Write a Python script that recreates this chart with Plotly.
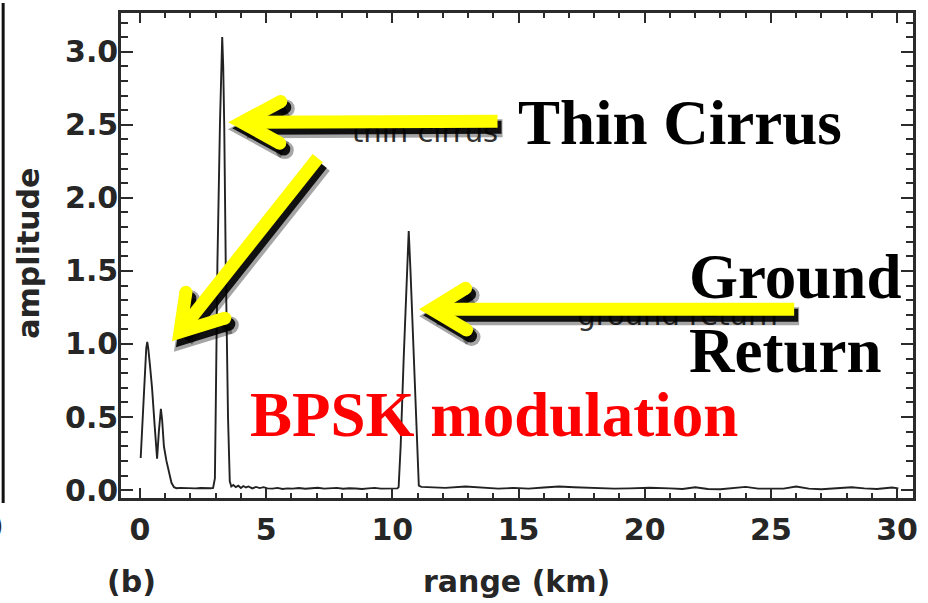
import plotly.graph_objects as go

# Lidar return amplitude vs range (BPSK modulation)
range_km = [
    0.03, 0.12, 0.20, 0.25, 0.29, 0.33, 0.40, 0.48, 0.58, 0.68, 0.75, 0.80, 0.83, 0.88,
    0.95, 1.05, 1.15, 1.25, 1.35, 1.45, 1.6, 1.8, 2.0, 2.2, 2.4, 2.6, 2.8, 2.9,
    2.97, 3.00, 3.07, 3.17, 3.22, 3.26, 3.30, 3.34, 3.40, 3.49, 3.56, 3.62,
    3.7, 3.8, 3.9, 4.0, 4.1, 4.2, 4.3, 4.45, 4.6, 4.75, 4.9, 5.05, 5.25, 5.45,
    5.65, 5.85, 6.05, 6.3, 6.55, 6.8, 7.05, 7.3, 7.55, 7.8, 8.05, 8.3, 8.55, 8.8,
    9.05, 9.3, 9.55, 9.8, 10.05, 10.2,
    10.25, 10.33, 10.45, 10.58, 10.65, 10.72, 10.85, 10.99, 11.05, 11.15,
    11.5, 12.1, 12.9, 13.5, 14.2, 14.8, 15.4, 16.0, 16.6, 17.2, 18.0, 18.8, 19.4,
    20.2, 21.0, 21.5, 22.0, 22.5, 23.0, 23.5, 24.0, 24.5, 25.0, 25.5, 26.0, 26.5,
    27.0, 27.5, 28.2, 28.7, 29.2, 29.8, 30.05,
]
amplitude = [
    0.22, 0.55, 0.88, 0.97, 1.015, 0.97, 0.85, 0.70, 0.45, 0.215, 0.40, 0.52, 0.556, 0.48,
    0.30, 0.20, 0.13, 0.05, 0.02, 0.013, 0.015, 0.013, 0.016, 0.012, 0.014, 0.011, 0.013, 0.015,
    0.08, 0.50, 1.55, 2.50, 2.90, 3.10, 2.90, 2.50, 1.55, 0.50, 0.06, 0.025,
    0.035, 0.020, 0.030, 0.015, 0.028, 0.018, 0.025, 0.012, 0.022, 0.014, 0.020, 0.012, 0.010, 0.015,
    0.008, 0.012, 0.010, 0.014, 0.009, 0.012, 0.016, 0.010, 0.012, 0.015, 0.009, 0.013, 0.011, 0.008,
    0.012, 0.015, 0.010, 0.012, 0.014, 0.012,
    0.02, 0.30, 0.90, 1.50, 1.773, 1.50, 0.90, 0.30, 0.03, 0.022,
    0.020, 0.015, 0.025, 0.020, 0.010, 0.015, 0.010, 0.018, 0.025, 0.020, 0.015, 0.010, 0.012,
    0.016, 0.012, 0.008, 0.020, 0.008, 0.006, 0.012, 0.022, 0.010, 0.008, 0.010, 0.025, 0.010,
    0.006, 0.010, 0.020, 0.012, 0.008, 0.018, 0.012,
]

# original in-plot labels (partly covered by the highlight arrows)
label_text = ["thin cirrus", "ground return"]
label_x = [11.3, 21.3]
label_y = [2.43, 1.18]

x_ticks = [0, 5, 10, 15, 20, 25, 30]
y_ticks = [0.0, 0.5, 1.0, 1.5, 2.0, 2.5, 3.0]

W_FIG, H_FIG = 928, 603
ML, MR, MT, MB = 121, 14, 10, 105
PW, PH = W_FIG - ML - MR, H_FIG - MT - MB


def pp(x, y):
    """pixel position -> paper coordinates"""
    return (x - ML) / PW, 1 - (y - MT) / PH


AX = "#2b2b2b"
TICK_FONT = dict(family="DejaVu Sans", size=30, color="#262626", weight="bold")

fig = go.Figure()
fig.add_trace(go.Scatter(
    x=range_km, y=amplitude, mode="lines",
    line=dict(color="#222222", width=1.9), hoverinfo="skip", showlegend=False,
))
fig.add_trace(go.Scatter(
    x=label_x, y=label_y, mode="text", text=label_text,
    textfont=dict(family="DejaVu Sans", size=29, color="#333333"),
    hoverinfo="skip", showlegend=False,
))

shapes = []


def seg_path(points, dx=0, dy=0):
    parts = []
    for i, (x, y) in enumerate(points):
        fx, fy = pp(x + dx, y + dy)
        parts.append(("M" if i == 0 else "L") + f"{fx:.5f},{fy:.5f}")
    return " ".join(parts)


def cap(x, y, r, color, opacity=1.0):
    x0, y0 = pp(x - r, y + r)
    x1, y1 = pp(x + r, y - r)
    return dict(type="circle", xref="paper", yref="paper", x0=x0, y0=y0, x1=x1, y1=y1,
                fillcolor=color, line=dict(width=0), opacity=opacity, layer="above")


# highlight arrows: (joint, arm end 1, arm end 2, shaft end)
arrows = [
    ((242, 120), (281, 99), (280, 141), (498, 119)),
    ((180, 331), (186, 291), (225, 317), (318, 156)),
    ((432, 308), (466, 287), (467, 329), (795, 308)),
]
WID = 13
for layer in ("halo", "shadow", "fill"):
    for joint, a1, a2, end in arrows:
        if layer == "fill":
            dx, dy, col, wid, op = 0, 0, "#ffff00", WID, 1.0
        elif layer == "shadow":
            dx, dy, col, wid, op = 4, 6, "#000000", WID, 0.9
        else:
            dx, dy, col, wid, op = 5, 7, "#000000", WID + 5, 0.35
        shapes.append(dict(type="path", xref="paper", yref="paper", layer="above",
                           path=seg_path([a1, joint, a2], dx, dy),
                           line=dict(color=col, width=wid), opacity=op))
        shapes.append(dict(type="path", xref="paper", yref="paper", layer="above",
                           path=seg_path([joint, end], dx, dy),
                           line=dict(color=col, width=wid), opacity=op))
        for (ex, ey) in (a1, a2):
            shapes.append(cap(ex + dx, ey + dy, wid / 2, col, op))

# panel divider on the far left
x0, y0 = pp(3, 0)
x1, y1 = pp(3, 503)
shapes.append(dict(type="line", xref="paper", yref="paper", x0=x0, y0=y0, x1=x1, y1=y1,
                   line=dict(color="#111111", width=3)))

annotations = []


def note(text, x, y, font, xanchor="center", yanchor="middle", angle=0):
    fx, fy = pp(x, y)
    annotations.append(dict(text=text, xref="paper", yref="paper", x=fx, y=fy,
                            xanchor=xanchor, yanchor=yanchor, showarrow=False,
                            textangle=angle, font=font))


SERIF_BLACK = dict(family="Liberation Serif", size=63, color="#000000", weight="bold")
note("Thin Cirrus", 681, 121, SERIF_BLACK)
note("Ground", 688, 276, SERIF_BLACK, xanchor="left")
note("Return", 688, 350, SERIF_BLACK, xanchor="left")
note("BPSK modulation", 494, 414, dict(family="Liberation Serif", size=63, color="#ff0000", weight="bold"))
note("range (km)", 517, 582, TICK_FONT)
note("(b)", 132, 582, TICK_FONT)
note("amplitude", 28, 252, TICK_FONT, angle=-90)
note(")", -3, 526, TICK_FONT)

fig.update_layout(
    width=W_FIG, height=H_FIG,
    margin=dict(l=ML, r=MR, t=MT, b=MB),
    paper_bgcolor="white", plot_bgcolor="white",
    shapes=shapes, annotations=annotations, showlegend=False,
    xaxis=dict(
        range=[-0.75, 30.63], tickvals=x_ticks, ticktext=[str(v) for v in x_ticks],
        ticks="inside", ticklen=10, tickwidth=2, tickcolor=AX,
        minor=dict(dtick=1, tick0=0, ticks="inside", ticklen=5, tickwidth=2, tickcolor=AX),
        showline=True, linewidth=2.5, linecolor=AX, mirror="ticks",
        showgrid=False, zeroline=False, tickfont=TICK_FONT, ticklabelstandoff=3,
    ),
    yaxis=dict(
        range=[-0.054, 3.265], tickvals=y_ticks, ticktext=[f"{v:.1f}" for v in y_ticks],
        ticks="inside", ticklen=12, tickwidth=2, tickcolor=AX,
        minor=dict(dtick=0.1, tick0=0, ticks="inside", ticklen=7, tickwidth=2, tickcolor=AX),
        showline=True, linewidth=2.5, linecolor=AX, mirror="ticks",
        showgrid=False, zeroline=False, tickfont=TICK_FONT, ticklabelstandoff=-6,
    ),
)

fig.write_html("out.html")
